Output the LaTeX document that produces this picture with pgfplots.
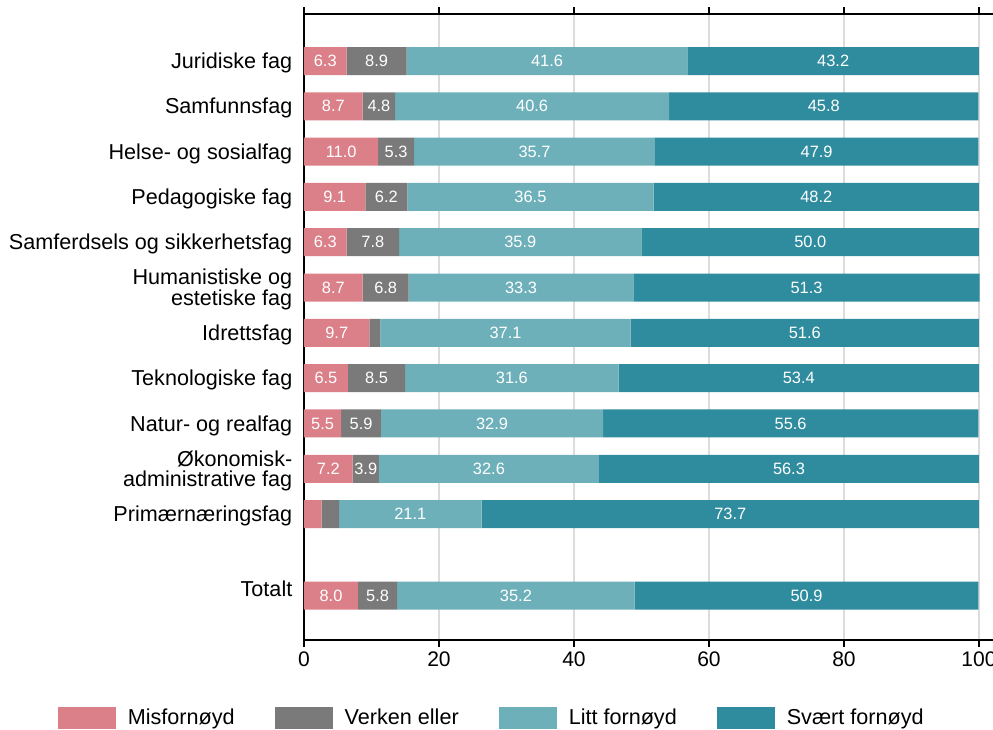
\documentclass[border=0pt]{standalone}
\usepackage{fontspec}
\setmainfont{Liberation Sans}
\usepackage{pgfplots}
\usepackage{pgfplotstable}
\pgfplotsset{compat=1.18}
\definecolor{cmis}{HTML}{DB7F89}
\definecolor{cver}{HTML}{7A7A7A}
\definecolor{clitt}{HTML}{6DB0BA}
\definecolor{csva}{HTML}{2E8C9E}
\definecolor{cgrid}{HTML}{DCDCDC}
\pgfplotstableread{
y a b c d
0 6.3 8.9 41.6 43.2
1 8.7 4.8 40.6 45.8
2 11.0 5.3 35.7 47.9
3 9.1 6.2 36.5 48.2
4 6.3 7.8 35.9 50.0
5 8.7 6.8 33.3 51.3
6 9.7 1.6 37.1 51.6
7 6.5 8.5 31.6 53.4
8 5.5 5.9 32.9 55.6
9 7.2 3.9 32.6 56.3
10 2.6 2.6 21.1 73.7
11.8 8.0 5.8 35.2 50.9
}\data
\pgfplotsset{
  base/.style={scale only axis, width=524.25pt, height=469.5pt,
    xmin=0, xmax=103.56, ymin=-1.0375, ymax=12.78, y dir=reverse,
    at={(228pt,-10.5pt)}, anchor=north west},
  barleg/.style={legend image code/.code={\fill[##1] (0pt,-8.25pt) rectangle (43.5pt,8.25pt);}},
  lab/.style={draw=none, mark=none, nodes near coords, point meta=explicit,
    nodes near coords align=center,
    every node near coord/.append style={text=white, font=\fontsize{12.3}{14}\selectfont, anchor=center},
    /pgf/number format/.cd, fixed, fixed zerofill, precision=1, assume math mode=true}
}
\begin{document}
\begin{tikzpicture}
\path[use as bounding box] (0,0) rectangle (744.75pt,-546.75pt);
\begin{axis}[base, xbar stacked, bar width=0.618,
  axis line style={black, line width=1.1pt},
  xmajorgrids, grid style={cgrid, line width=1.4pt},
  xtick={0,20,...,100},
  ytick={0,1,2,3,4,5,6,7,8,9,10,11.6},
  yticklabels={Juridiske fag, Samfunnsfag, Helse- og sosialfag, Pedagogiske fag, Samferdsels og sikkerhetsfag, {Humanistiske og\\estetiske fag}, Idrettsfag, Teknologiske fag, Natur- og realfag, {Økonomisk-\\administrative fag}, Primærnæringsfag, Totalt},
  tick align=outside, major tick length=5.25pt,
  xtick style={black, line width=1pt}, ytick style={draw=none},
  ticklabel style={font=\fontsize{15.8}{17}\selectfont},
  yticklabel style={align=right, font=\fontsize{16.2}{15.5}\selectfont, yshift=-1.5pt},
  /pgf/number format/assume math mode=true,
  legend columns=4,
  legend style={at={(axis description cs:-0.3525,-0.1246)}, anchor=west, draw=none, fill=none, inner sep=0pt,
    font=\fontsize{16.2}{17}\selectfont,
    /tikz/every odd column/.append style={column sep=7pt},
    /tikz/every even column/.append style={column sep=28pt}},
]
\addplot[fill=cmis, draw=none, barleg] table[x=a, y=y]{\data};
\addplot[fill=cver, draw=none, barleg] table[x=b, y=y]{\data};
\addplot[fill=clitt, draw=none, barleg] table[x=c, y=y]{\data};
\addplot[fill=csva, draw=none, barleg] table[x=d, y=y]{\data};
\legend{Misfornøyd, Verken eller, Litt fornøyd, Svært fornøyd}
\end{axis}
\begin{axis}[base, hide axis]
\addplot[lab] table[x expr={\thisrow{a}/2}, y=y, meta=a, restrict expr to domain={\thisrow{a}}{3:100}]{\data};
\addplot[lab] table[x expr={\thisrow{a}+\thisrow{b}/2}, y=y, meta=b, restrict expr to domain={\thisrow{b}}{3:100}]{\data};
\addplot[lab] table[x expr={\thisrow{a}+\thisrow{b}+\thisrow{c}/2}, y=y, meta=c, restrict expr to domain={\thisrow{c}}{3:100}]{\data};
\addplot[lab] table[x expr={\thisrow{a}+\thisrow{b}+\thisrow{c}+\thisrow{d}/2}, y=y, meta=d, restrict expr to domain={\thisrow{d}}{3:100}]{\data};
\end{axis}
\end{tikzpicture}
\end{document}
